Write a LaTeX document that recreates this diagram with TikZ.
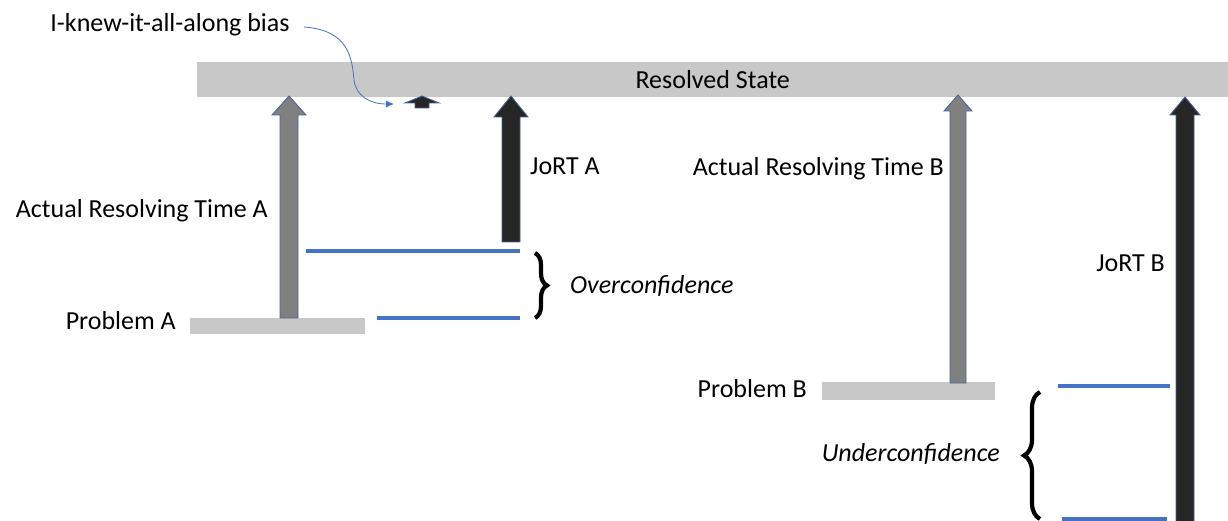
\documentclass[tikz,border=0pt]{standalone}
\usepackage{fontspec}
\setmainfont{Carlito}
\usetikzlibrary{positioning,calc,decorations.pathreplacing,arrows.meta}
\definecolor{BarGray}{RGB}{200,200,200}
\definecolor{ArrowGray}{RGB}{128,128,128}
\definecolor{ArrowBlack}{RGB}{38,38,38}
\definecolor{OfficeBlue}{RGB}{68,114,196}
\definecolor{EdgeBlue}{RGB}{70,100,150}
\tikzset{
    bar/.style={rectangle, fill=BarGray, inner sep=0pt, font=\fontsize{26}{30}\selectfont},
    lbl/.style={inner sep=0pt, font=\fontsize{26}{30}\selectfont},
    grayarrow/.style={fill=ArrowGray, draw=EdgeBlue, line width=0.9pt},
    blackarrow/.style={fill=ArrowBlack, draw=EdgeBlue, line width=0.9pt},
    guess/.style={draw=OfficeBlue, line width=3.4pt},
    bracket/.style={decorate, decoration={brace, amplitude=#1, aspect=0.5}, line width=4.2pt},
    biasline/.style={draw=OfficeBlue, line width=0.8pt, -{Latex[length=8pt,width=7pt]}}
}
% block arrow: base, tip, style, half shaft, half head, head length
\newcommand{\blockup}[6]{%
    \draw[#3] ($(#1)+(-#4,0)$) -- ($(#2)+(-#4,#6)$) -- ($(#2)+(-#5,#6)$) -- (#2)
        -- ($(#2)+(#5,#6)$) -- ($(#2)+(#4,#6)$) -- ($(#1)+(#4,0)$) -- cycle;}
\begin{document}
\begin{tikzpicture}[x=1pt, y=-1pt]
    \useasboundingbox (0,0) rectangle (1228,521);

    % --- resolved state and problems ---
    \node[bar, anchor=north west, minimum width=1031pt, minimum height=35pt] (resolved) at (197,62) {Resolved State};
    \node[bar, anchor=north west, minimum width=175pt, minimum height=16pt] (probA) at (190,318) {};
    \node[bar, anchor=north west, minimum width=173pt, minimum height=18pt] (probB) at (822,382) {};
    \node[lbl, anchor=east] (probAtxt) at (176,321) {Problem A};
    \node[lbl, anchor=east] (probBtxt) at (807,389) {Problem B};

    % --- arrows ---
    \coordinate (grayAbot) at (289,318);  \coordinate (grayAtop) at (289,96);
    \coordinate (jortAbot) at (511,242);  \coordinate (jortAtop) at (511,96);
    \coordinate (grayBbot) at (958,383);  \coordinate (grayBtop) at (958,95);
    \coordinate (jortBbot) at (1185,523); \coordinate (jortBtop) at (1185,97);
    \coordinate (knewbot) at (422,108);   \coordinate (knewtop) at (422,96);
    \blockup{grayAbot}{grayAtop}{grayarrow}{9}{17}{19}
    \blockup{jortAbot}{jortAtop}{blackarrow}{9}{17}{21}
    \blockup{grayBbot}{grayBtop}{grayarrow}{8}{14}{16}
    \blockup{jortBbot}{jortBtop}{blackarrow}{9}{15}{18}
    \blockup{knewbot}{knewtop}{blackarrow}{7}{17}{7}

    % --- labels ---
    \node[lbl, anchor=east] (actA) at (268,211) {Actual Resolving Time A};
    \node[lbl, anchor=west] (jortA) at (530,166) {JoRT A};
    \node[lbl, anchor=east] (actB) at (944,169) {Actual Resolving Time B};
    \node[lbl, anchor=east] (jortB) at (1165,263) {JoRT B};
    \node[lbl, anchor=center] (bias) at (170,25) {I-knew-it-all-along bias};
    \coordinate (biashit) at (394,104);
    \draw[biasline] ($(bias.east)+(14,2)$) .. controls (350,30) and (352,60) .. (354,80)
        .. controls (356,96) and (370,104) .. (biashit);

    % --- judged levels ---
    \coordinate (aHiL) at (306,251);  \coordinate (aHiR) at (520,251);
    \coordinate (aLoL) at (377,318);  \coordinate (aLoR) at (520,318);
    \coordinate (bHiL) at (1058,386); \coordinate (bHiR) at (1170,386);
    \coordinate (bLoL) at (1062,519); \coordinate (bLoR) at (1167,519);
    \draw[guess] (aHiL) -- (aHiR);
    \draw[guess] (aLoL) -- (aLoR);
    \draw[guess] (bHiL) -- (bHiR);
    \draw[guess] (bLoL) -- (bLoR);

    % --- braces ---
    \draw[bracket=12pt] ($(aHiR)+(15,2)$) -- ($(aLoR)+(15,0)$);
    \draw[bracket=16pt] ($(bHiL)+(-18,6)$) -- ($(bLoL)+(-22,0)$) [decoration={mirror}];
    \node[lbl, anchor=west, font=\fontsize{26}{30}\selectfont\itshape] (over) at (570,286) {Overconfidence};
    \node[lbl, anchor=east, font=\fontsize{26}{30}\selectfont\itshape] (under) at (1000,454) {Underconfidence};
\end{tikzpicture}
\end{document}
